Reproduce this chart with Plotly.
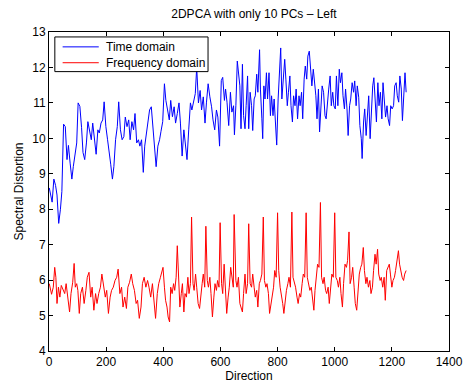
import plotly.graph_objects as go

# ---- data ----
time_dir = [1, 6, 11, 17, 23, 28, 34, 40, 45, 51, 57, 63, 68, 74, 80, 85, 91, 97, 102, 108,
            114, 119, 125, 131, 136, 142, 148, 153, 159, 165, 171, 176, 182, 188, 193, 199, 205, 210, 216, 222,
            227, 233, 239, 244, 250, 256, 262, 267, 273, 279, 284, 290, 296, 301, 307, 313, 318, 324, 330, 335,
            341, 347, 352, 358, 364, 370, 375, 381, 387, 392, 398, 404, 409, 415, 421, 426, 432, 438, 443, 449,
            455, 460, 466, 472, 478, 483, 489, 495, 500, 506, 512, 517, 523, 529, 534, 540, 546, 551, 557, 563,
            569, 574, 580, 586, 591, 597, 603, 608, 614,
            618, 623, 629, 635, 640, 646, 649, 654, 659, 663, 668, 672, 677, 681, 686, 690, 695, 699, 704, 709,
            713, 718, 722, 727, 731, 737, 740, 745, 748, 752, 756, 761, 765, 770, 775, 779, 784, 788, 793, 797,
            802, 806, 811, 815, 820, 825, 829, 834, 838, 843, 847, 852, 856, 861, 865, 870, 875, 879, 884, 888,
            893, 897, 902, 906, 911, 916, 920, 925, 929, 934, 938, 943, 947, 952, 956, 961, 966, 970, 975, 979,
            984, 988, 993, 997, 1002, 1006, 1011, 1016, 1020, 1025, 1029, 1034, 1038, 1043, 1047, 1052, 1056, 1061, 1066, 1070,
            1075, 1079, 1084, 1088, 1093, 1096, 1101, 1105, 1110, 1115, 1119, 1124, 1128, 1133, 1137, 1142, 1146, 1151, 1155, 1160,
            1165, 1169, 1174, 1178, 1183, 1187, 1192, 1196, 1201, 1206, 1210, 1215, 1219, 1224, 1228, 1233, 1237, 1242, 1246, 1250]
time_val = [8.6, 8.4, 8.2, 8.85, 8.67, 8.4, 7.6, 8.0, 8.5, 10.4, 10.33, 9.4, 9.8, 9.3, 8.85, 9.2, 9.6, 9.87, 11.0, 10.9,
            10.3, 9.6, 9.4, 9.87, 10.47, 10.24, 9.96, 10.43, 10.05, 9.55, 10.24, 10.15, 10.43, 10.52, 11.03, 10.33, 9.96, 9.55, 9.27, 8.85,
            9.2, 9.96, 10.33, 11.03, 10.24, 9.96, 10.05, 10.6, 10.33, 10.52, 9.96, 10.47, 10.24, 10.7, 9.87, 9.96, 9.78, 9.96, 9.04, 9.78,
            10.15, 10.43, 10.8, 10.89, 10.33, 9.87, 9.2, 9.78, 9.96, 10.2, 10.47, 11.54, 11.07, 10.8, 10.52, 11.07, 10.61, 10.89, 10.43, 10.7,
            11.0, 10.43, 9.5, 10.24, 9.78, 9.4, 10.24, 11.0, 10.8, 11.0, 11.26, 12.0, 11.0, 11.35, 10.8, 11.17, 10.43, 11.0, 11.54, 11.17,
            10.89, 10.52, 10.24, 10.8, 10.6, 9.78, 11.63, 11.72, 11.07,
            11.39, 11.02, 10.36, 11.3, 10.74, 10.92, 10.1, 10.92, 12.18, 11.85, 11.48, 10.27, 12.09, 10.64, 10.27, 10.92, 11.76, 10.27, 11.3, 10.92,
            10.22, 11.11, 11.2, 11.81, 11.3, 12.5, 11.39, 10.55, 9.99, 11.48, 11.11, 11.85, 11.11, 11.85, 10.64, 11.2, 10.64, 11.11, 10.55, 9.81,
            11.11, 11.85, 12.55, 11.11, 11.57, 12.23, 11.67, 10.92, 11.3, 11.76, 10.92, 10.46, 11.2, 10.92, 11.39, 10.55, 11.2, 10.92, 11.3, 10.55,
            11.67, 12.04, 11.67, 12.32, 12.46, 11.85, 11.48, 11.95, 11.57, 11.2, 10.55, 11.39, 10.18, 10.92, 11.48, 11.3, 10.64, 10.55, 11.2, 11.39,
            11.76, 10.92, 11.3, 10.92, 10.83, 11.76, 10.92, 11.95, 11.57, 11.85, 11.2, 10.83, 11.39, 10.83, 10.08, 10.92, 11.11, 11.57, 11.3, 11.62,
            10.92, 11.48, 11.16, 10.36, 9.99, 9.43, 10.46, 10.83, 10.08, 10.64, 11.2, 9.99, 10.92, 11.48, 11.71, 10.92, 10.46, 11.57, 10.92, 11.3,
            10.55, 11.57, 11.11, 10.6, 10.92, 10.55, 10.36, 10.92, 10.83, 10.92, 11.48, 11.57, 11.2, 11.02, 11.76, 11.39, 10.5, 11.3, 11.85, 11.3]

freq_dir = [1, 9, 15, 20, 24, 28, 33, 38, 43, 49, 55, 60, 66, 72, 77, 83, 88, 92, 97, 101,
            106, 111, 117, 123, 129, 134, 140, 146, 151, 157, 163, 168, 174, 180, 185, 191, 197, 202, 208, 214,
            219, 225, 231, 237, 242, 248, 254, 259, 265, 271, 276, 282, 288, 293, 299, 305, 310, 316, 322, 327,
            333, 339, 345, 350, 356, 362, 367, 373,
            379, 384, 390, 396, 399, 404, 408, 413, 417, 422, 426, 431, 436, 440, 445, 449, 454, 458, 463, 467,
            472, 476, 481, 486, 490, 495, 499, 504, 508, 513, 517, 522, 527, 531, 536, 540, 545, 549, 554, 558,
            563, 567, 572, 577, 581, 586, 590, 595, 599, 604, 608, 613, 617, 622, 627, 631, 636, 640, 645, 648,
            654, 658, 663, 668, 672, 677, 681, 686,
            690, 695, 699, 704, 709, 713, 718, 722, 727, 731, 736, 740, 745, 750, 754, 759, 763, 768, 772, 777,
            781, 786, 790, 795, 800, 804, 809, 813, 818, 822, 827, 831, 836, 840, 845, 850, 854, 859, 863, 868,
            872, 877, 881, 886, 890, 895, 900, 904, 909, 913, 918, 922, 927, 931, 936, 940, 945, 950, 954, 959,
            963, 968, 972, 977, 981, 986, 990, 995, 1000, 1004, 1009, 1013, 1018, 1022, 1027, 1031, 1036, 1041, 1045, 1050,
            1054,
            1059, 1063, 1068, 1072, 1077, 1082, 1086, 1091, 1095, 1100, 1104, 1109, 1113, 1118, 1123, 1127, 1132, 1136, 1141, 1145,
            1150, 1154, 1159, 1163, 1168, 1173, 1177, 1182, 1186, 1191, 1195, 1200, 1204, 1209, 1213, 1218, 1223, 1227, 1232, 1236,
            1241, 1245, 1250]
freq_val = [5.9, 5.6, 5.8, 6.36, 6.08, 5.34, 5.8, 5.52, 5.85, 5.71, 5.62, 5.9, 5.43, 5.1, 5.62, 5.94, 6.47, 5.8, 5.9, 5.71,
            5.06, 5.62, 5.8, 5.34, 5.71, 6.08, 6.22, 5.52, 5.8, 5.15, 5.62, 5.34, 5.62, 5.8, 6.17, 5.9, 5.52, 5.71, 5.06, 5.52,
            5.71, 5.8, 5.99, 6.08, 6.31, 5.62, 5.8, 5.24, 5.52, 5.2, 5.8, 5.94, 6.17, 5.9, 5.71, 5.34, 5.43, 4.92, 5.24, 5.9,
            6.08, 5.8, 5.99, 5.8, 5.52, 5.9, 5.38, 4.92,
            5.62, 5.9, 6.08, 6.27, 6.36, 5.8, 5.43, 5.24, 4.96, 4.82, 5.8, 5.62, 5.9, 5.71, 6.08, 6.97, 5.8, 5.24, 5.62, 5.9,
            5.1, 5.62, 5.52, 6.08, 5.62, 5.9, 7.78, 5.9, 5.71, 6.17, 5.8, 5.34, 5.2, 5.62, 5.9, 6.17, 5.8, 7.52, 5.99, 5.8,
            6.08, 5.62, 4.96, 5.52, 5.9, 5.71, 5.99, 5.8, 7.62, 5.9, 5.62, 6.45, 5.62, 5.06, 5.52, 5.8, 6.36, 6.08, 5.8, 7.85,
            5.99, 5.8, 6.08, 5.34, 5.24, 5.1, 5.62, 6.17,
            5.62, 5.9, 7.59, 5.9, 5.8, 6.17, 5.8, 5.52, 5.71, 5.24, 5.9, 5.99, 6.17, 7.78, 5.99, 5.8, 5.9, 5.62, 5.06, 5.34,
            5.52, 5.8, 6.27, 6.08, 7.9, 6.27, 5.8, 5.62, 5.34, 5.06, 5.43, 5.71, 5.9, 6.08, 5.8, 7.92, 6.08, 5.9, 5.8, 5.52,
            5.34, 5.62, 5.52, 5.9, 6.17, 6.08, 7.9, 6.08, 5.9, 5.71, 5.8, 5.52, 5.15, 5.71, 6.08, 6.45, 6.36, 8.19, 6.08, 5.9,
            6.08, 5.71, 5.62, 5.8, 5.34, 5.8, 6.17, 6.08, 7.9, 6.08, 5.99, 5.8, 6.08, 5.62, 5.24, 5.9, 6.45, 6.36, 6.55, 7.36,
            5.9,
            6.08, 6.36, 5.8, 5.34, 5.15, 5.8, 6.17, 6.36, 6.45, 6.92, 6.27, 5.9, 6.08, 5.8, 5.99, 5.62, 5.8, 6.27, 6.73, 6.45,
            6.87, 6.17, 5.99, 6.08, 5.8, 6.08, 5.43, 6.27, 6.36, 6.45, 6.17, 5.8, 5.99, 6.08, 6.27, 6.55, 6.83, 6.45, 6.17, 6.08,
            5.99, 6.17, 6.27]

x_ticks = [0, 200, 400, 600, 800, 1000, 1200, 1400]
y_ticks = [4, 5, 6, 7, 8, 9, 10, 11, 12, 13]
series_names = ["Time domain", "Frequency domain"]
series_colors = ["#0000ff", "#ff0000"]

FONT = "Liberation Sans, Arial, Helvetica, sans-serif"

fig = go.Figure()
fig.add_trace(go.Scatter(x=time_dir, y=time_val, mode="lines", name=series_names[0],
                         line=dict(color=series_colors[0], width=1)))
fig.add_trace(go.Scatter(x=freq_dir, y=freq_val, mode="lines", name=series_names[1],
                         line=dict(color=series_colors[1], width=1)))

axis_common = dict(showline=True, linecolor="black", linewidth=1, mirror="ticks",
                   ticks="inside", ticklen=4, tickcolor="black", showgrid=False,
                   zeroline=False, tickfont=dict(family=FONT, size=12, color="black"))

# MATLAB-style legend box (paper coordinates), drawn above the lines
shapes = [dict(type="rect", xref="paper", yref="paper", x0=0.0146, x1=0.3976, y0=0.8758, y1=0.9845,
               fillcolor="white", line=dict(color="black", width=1), layer="above")]
annotations = []
for i, (nm, col) in enumerate(zip(series_names, series_colors)):
    yy = 0.9534 - i * 0.0497
    shapes.append(dict(type="line", xref="paper", yref="paper", x0=0.0341, x1=0.1244, y0=yy, y1=yy,
                       line=dict(color=col, width=1), layer="above"))
    annotations.append(dict(text=nm, xref="paper", yref="paper", x=0.1366, y=yy, xanchor="left",
                            yanchor="middle", showarrow=False,
                            font=dict(family=FONT, size=12, color="black")))

fig.update_layout(
    width=475, height=392,
    margin=dict(l=49, r=16, t=32, b=38),
    paper_bgcolor="white", plot_bgcolor="white",
    title=dict(text="2DPCA with only 10 PCs \u2013 Left", x=0.5 * (49 + 459) / 475, xanchor="center",
               y=1 - 14 / 392, yanchor="middle",
               font=dict(family=FONT, size=12, color="black")),
    xaxis=dict(range=[0, 1400], tickvals=x_ticks, ticktext=[str(t) for t in x_ticks],
               title=dict(text="Direction", font=dict(family=FONT, size=12, color="black"), standoff=2),
               **axis_common),
    yaxis=dict(range=[4, 13], tickvals=y_ticks, ticktext=[str(t) for t in y_ticks],
               title=dict(text="Spectral Distortion", font=dict(family=FONT, size=12, color="black"), standoff=6),
               **axis_common),
    shapes=shapes,
    annotations=annotations,
    showlegend=False,
)

fig.write_html("out.html")
